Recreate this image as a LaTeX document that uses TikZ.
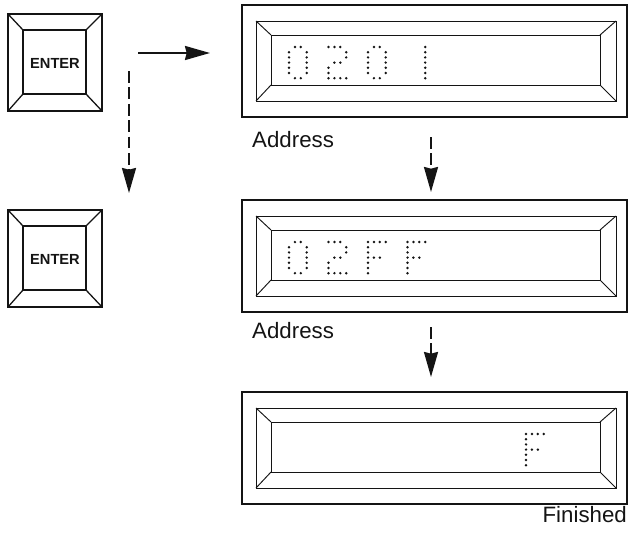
\documentclass[tikz,border=0pt]{standalone}
\usepackage{fontspec}
\setmainfont{Liberation Sans}
\usetikzlibrary{arrows.meta,positioning,calc}
\definecolor{kbInk}{RGB}{20,20,20}

% dot patterns (col/row) of the 4x7 matrix
\newcommand{\dmZero}{1/0,2/0,0/1,3/1,0/2,3/2,0/3,3/3,0/4,3/4,0/5,3/5,1/6,2/6}
\newcommand{\dmTwo}{0/0,1/0,2/0,3/1,3/2,1/3,2/3,0/4,0/5,0/6,1/6,2/6,3/6}
\newcommand{\dmEff}{0/0,1/0,2/0,3/0,0/1,0/2,0/3,1/3,2/3,0/4,0/5,0/6}
\newcommand{\dmOne}{3/0,3/1,3/2,3/3,3/4,3/5,3/6}

% one character: #1 panel top, #2 position, #3 pattern
\newcommand{\dmchar}[3]{%
  \foreach \c/\r in #3
    \fill[kbInk] (289+#2*39.5+\c*5.9,#1+42+\r*5.2) circle[radius=1.15pt];}

% display window: #1 name, #2 top edge
\newcommand{\lcdpanel}[2]{%
  \node[panel,anchor=north west] (#1) at (242,#2) {};
  \draw[bevel] (256,#2+16) rectangle (616,#2+96);
  \draw[bevel] (271,#2+30) rectangle (600,#2+80);
  \draw[bevel] (256,#2+16) -- (271,#2+30)
               (616,#2+16) -- (600,#2+30)
               (256,#2+96) -- (271,#2+80)
               (616,#2+96) -- (600,#2+80);}

% key cap: #1 name, #2 left, #3 top
\newcommand{\enterkey}[3]{%
  \node[keycap,anchor=north west] (#1) at (#2,#3) {};
  \draw[keyline] (#2+15,#3+16) rectangle (#2+78,#3+80);
  \draw[keyline] (#2,#3) -- (#2+15,#3+16)
                 (#2+94,#3) -- (#2+78,#3+16)
                 (#2,#3+97) -- (#2+15,#3+80)
                 (#2+94,#3+97) -- (#2+78,#3+80);
  \node[keytext] (#1t) at (#2+47,#3+49) {ENTER};}

\begin{document}
\begin{tikzpicture}[
  x=0.03cm,y=-0.03cm,
  panel/.style={draw=kbInk,line width=1.2pt,minimum width=11.55cm,
                minimum height=3.36cm,inner sep=0pt,outer sep=0pt},
  bevel/.style={draw=kbInk,line width=0.8pt},
  keycap/.style={draw=kbInk,line width=1.7pt,minimum width=2.82cm,
                 minimum height=2.91cm,inner sep=0pt,outer sep=0pt},
  keyline/.style={draw=kbInk,line width=1.1pt},
  keytext/.style={font=\fontsize{12.5}{14}\selectfont\bfseries,kbInk},
  caption/.style={font=\fontsize{19}{22}\selectfont,kbInk,inner sep=0pt},
  flow/.style={-{Stealth[length=7.5mm,width=4.2mm,inset=0.5mm]},
               line width=1.7pt,kbInk},
  dflow/.style={flow,dash pattern=on 10pt off 4pt}
]
\useasboundingbox (0,0) rectangle (629,535);

% keys
\enterkey{k1}{8}{14}
\enterkey{k2}{8}{210}

% displays
\lcdpanel{d1}{5}
\lcdpanel{d2}{200}
\lcdpanel{d3}{392}

% contents of the displays
\dmchar{5}{0}{\dmZero}
\dmchar{5}{1}{\dmTwo}
\dmchar{5}{2}{\dmZero}
\dmchar{5}{3}{\dmOne}
\dmchar{200}{0}{\dmZero}
\dmchar{200}{1}{\dmTwo}
\dmchar{200}{2}{\dmEff}
\dmchar{200}{3}{\dmEff}
\dmchar{392}{6}{\dmEff}

% labels
\node[caption,anchor=base west] (l1) at (252,147) {Address};
\node[caption,anchor=base west] (l2) at (252,338) {Address};
\node[caption,anchor=base east] (l3) at (627,522) {Finished};

% arrows
\coordinate (r0) at (138,53);
\coordinate (r1) at (210,53);
\coordinate (s0) at (129,71);
\coordinate (s1) at (129,193);
\coordinate (t0) at (431,137);
\coordinate (t1) at (431,192);
\coordinate (u0) at (431,327);
\coordinate (u1) at (431,377);
\draw[flow] (r0) -- (r1);
\draw[dflow] (s0) -- (s1);
\draw[dflow] (t0) -- (t1);
\draw[dflow] (u0) -- (u1);
\end{tikzpicture}
\end{document}
